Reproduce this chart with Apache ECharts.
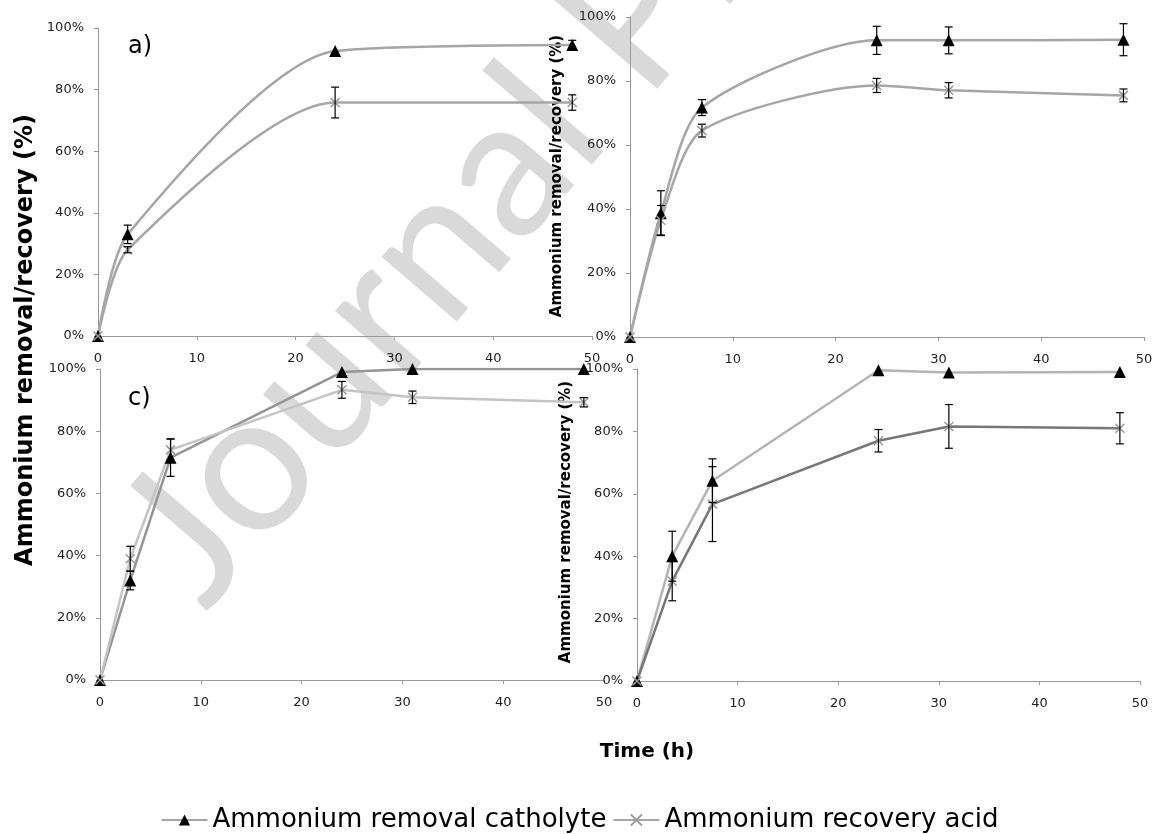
<!DOCTYPE html>
<html>
<head>
<meta charset="utf-8">
<title>Ammonium removal / recovery</title>
<script src="https://cdn.jsdelivr.net/npm/echarts@6/dist/echarts.min.js"></script>
<style>
  html, body { margin: 0; padding: 0; background: #fff; }
  #chart { width: 1159px; height: 834px; }
</style>
</head>
<body>
<div id="chart"></div>
<script>
// sampling times (h) per panel
const timeA = [0, 3, 24, 48];
const timeB = [0, 3, 7, 24, 31, 48];
const timeC = [0, 3, 7, 24, 31, 48];
const timeD = [0, 3.5, 7.5, 24, 31, 48];

// ammonium removal catholyte (%) and error
const catholyteA = [0, 33, 92.5, 94.5];
const catholyteAErr = [0, 3, 0, 1.5];
const catholyteB = [0, 38.7, 71.7, 92.7, 92.7, 92.9];
const catholyteBErr = [0, 7, 2.5, 4.4, 4.2, 5];
const catholyteC = [0, 32, 71.5, 99, 100, 100];
const catholyteCErr = [0, 3, 6, 0, 0, 0];
const catholyteD = [0, 40, 64.2, 99.6, 98.9, 99];
const catholyteDErr = [0, 8, 7, 0, 0, 0];

// ammonium recovery acid (%) and error
const acidA = [0, 28, 75.8, 75.8];
const acidAErr = [0, 1, 5, 2.5];
const acidB = [0, 36.5, 64.5, 78.6, 77.1, 75.5];
const acidBErr = [0, 4.6, 2, 2.2, 2.4, 2];
const acidC = [0, 39, 74, 93.3, 90.9, 89.3];
const acidCErr = [0, 4, 3.5, 2.7, 2, 1.5];
const acidD = [0, 32, 56.7, 77, 81.6, 81];
const acidDErr = [0, 6.3, 12, 3.6, 7, 5];

const xTicks = [0, 10, 20, 30, 40, 50];
const yTicks = [0, 20, 40, 60, 80, 100];

const CAT = 'Ammonium removal catholyte';
const ACID = 'Ammonium recovery acid';
const FONT = 'DejaVu Sans';
const XMARK = 'path://M0,0L10,10M10,0L0,10';

const chart = echarts.init(document.getElementById('chart'));

// grid boxes in px
const grids = [
  { left: 98, top: 28, width: 494, height: 308 },
  { left: 630, top: 17, width: 514, height: 320 },
  { left: 100, top: 369, width: 504, height: 311 },
  { left: 637, top: 369, width: 503, height: 312 }
];

function xAxis(i) {
  return {
    gridIndex: i, type: 'value', min: xTicks[0], max: xTicks[xTicks.length - 1], interval: 10,
    axisLine: { lineStyle: { color: '#999', width: 1 } },
    axisTick: { show: true, length: 4, lineStyle: { color: '#999' } },
    axisLabel: { color: '#222', fontFamily: FONT, fontSize: 13, margin: 16 },
    splitLine: { show: false }
  };
}
function yAxis(i) {
  return {
    gridIndex: i, type: 'value', min: yTicks[0], max: yTicks[yTicks.length - 1], interval: 20,
    axisLine: { show: true, lineStyle: { color: '#999', width: 1 } },
    axisTick: { show: true, length: 4, lineStyle: { color: '#999' } },
    axisLabel: { color: '#222', fontFamily: FONT, fontSize: 13, margin: 14, formatter: '{value}%' },
    splitLine: { show: false }
  };
}

function line(name, i, time, vals, color, smooth) {
  const isCat = name === CAT;
  return {
    name: name, type: 'line', xAxisIndex: i, yAxisIndex: i,
    data: time.map((t, k) => [t, vals[k]]),
    smooth: smooth,
    symbol: isCat ? 'triangle' : XMARK,
    symbolSize: isCat ? 12 : 9,
    lineStyle: { color: color, width: 2.5 },
    itemStyle: isCat ? { color: '#000' } : { color: 'none', borderColor: '#999', borderWidth: 1.5 },
    z: 3
  };
}

function errBars(i, time, vals, errs) {
  const data = [];
  time.forEach((t, k) => { if (errs[k] > 0) data.push([t, vals[k] - errs[k], vals[k] + errs[k]]); });
  return {
    type: 'custom', xAxisIndex: i, yAxisIndex: i, silent: true, z: 4,
    data: data,
    renderItem: function (params, api) {
      const hi = api.coord([api.value(0), api.value(2)]);
      const lo = api.coord([api.value(0), api.value(1)]);
      const st = { stroke: '#000', lineWidth: 1.2 };
      return {
        type: 'group',
        children: [
          { type: 'line', shape: { x1: hi[0], y1: hi[1], x2: lo[0], y2: lo[1] }, style: st },
          { type: 'line', shape: { x1: hi[0] - 4, y1: hi[1], x2: hi[0] + 4, y2: hi[1] }, style: st },
          { type: 'line', shape: { x1: lo[0] - 4, y1: lo[1], x2: lo[0] + 4, y2: lo[1] }, style: st }
        ]
      };
    }
  };
}

const series = [
  line(CAT, 0, timeA, catholyteA, '#a6a6a6', 0.25),
  line(ACID, 0, timeA, acidA, '#a6a6a6', 0.25),
  errBars(0, timeA, catholyteA, catholyteAErr),
  errBars(0, timeA, acidA, acidAErr),
  line(CAT, 1, timeB, catholyteB, '#a6a6a6', 0.25),
  line(ACID, 1, timeB, acidB, '#a6a6a6', 0.25),
  errBars(1, timeB, catholyteB, catholyteBErr),
  errBars(1, timeB, acidB, acidBErr),
  line(CAT, 2, timeC, catholyteC, '#959595', false),
  line(ACID, 2, timeC, acidC, '#c4c4c4', false),
  errBars(2, timeC, catholyteC, catholyteCErr),
  errBars(2, timeC, acidC, acidCErr),
  line(CAT, 3, timeD, catholyteD, '#b4b4b4', false),
  line(ACID, 3, timeD, acidD, '#777777', false),
  errBars(3, timeD, catholyteD, catholyteDErr),
  errBars(3, timeD, acidD, acidDErr)
];

const titleStyle = (size) => ({ fill: '#000', font: 'bold ' + size + 'px "' + FONT + '"', textAlign: 'center', textVerticalAlign: 'middle' });

chart.setOption({
  backgroundColor: '#fff',
  animation: false,
  grid: grids,
  xAxis: [xAxis(0), xAxis(1), xAxis(2), xAxis(3)],
  yAxis: [yAxis(0), yAxis(1), yAxis(2), yAxis(3)],
  legend: {
    data: [CAT, ACID],
    bottom: -4, left: 'center',
    itemWidth: 46, itemHeight: 14, itemGap: 6,
    textStyle: { fontFamily: FONT, fontSize: 26, color: '#000' }
  },
  graphic: [
    // watermark
    { type: 'text', x: 232, y: 636, rotation: 0.86, z: -10, silent: true,
      style: { text: 'Journal Pre-proof', fill: '#d9d9d9', font: '196px Lato', textAlign: 'left', textVerticalAlign: 'bottom' } },
    { type: 'text', x: 26, y: 340, rotation: Math.PI / 2, style: Object.assign({ text: 'Ammonium removal/recovery (%)' }, titleStyle(24)) },
    { type: 'text', x: 557, y: 176, rotation: Math.PI / 2, style: Object.assign({ text: 'Ammonium removal/recovery (%)' }, titleStyle(15)) },
    { type: 'text', x: 566, y: 522, rotation: Math.PI / 2, style: Object.assign({ text: 'Ammonium removal/recovery (%)' }, titleStyle(15)) },
    { type: 'text', x: 647, y: 752, style: Object.assign({ text: 'Time (h)' }, titleStyle(20)) },
    { type: 'text', x: 128, y: 47, style: { text: 'a)', fill: '#000', font: '24px "' + FONT + '"', textVerticalAlign: 'middle' } },
    { type: 'text', x: 128, y: 399, style: { text: 'c)', fill: '#000', font: '24px "' + FONT + '"', textVerticalAlign: 'middle' } }
  ],
  series: series
});
</script>
</body>
</html>
